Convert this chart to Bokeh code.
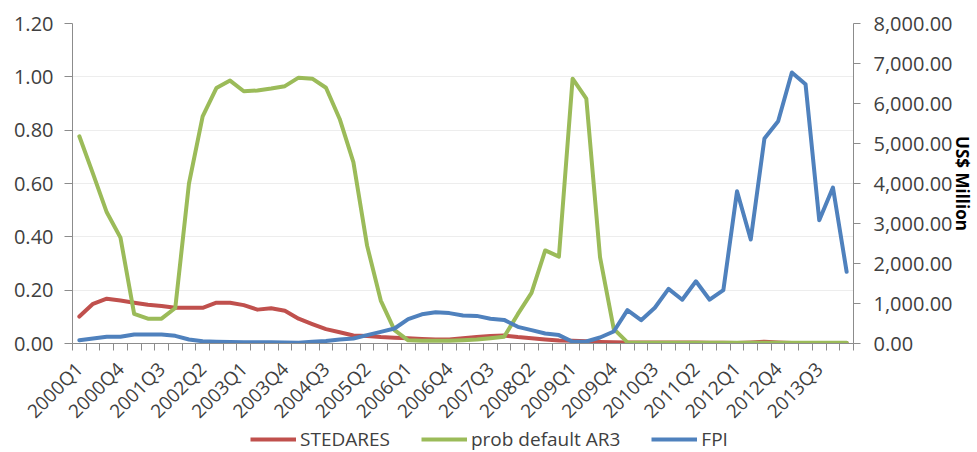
import math
from bokeh.plotting import figure
from bokeh.layouts import column
from bokeh.models import (Range1d, LinearAxis, FixedTicker, NumeralTickFormatter,
                          Legend, LegendItem, ColumnDataSource)
from bokeh.embed import file_html
from bokeh.resources import INLINE

quarters = [f"{y}Q{q}" for y in range(2000, 2015) for q in range(1, 5)][:57]

stedares = [0.101, 0.149, 0.168, 0.161, 0.153, 0.145, 0.141, 0.134, 0.134, 0.134,
            0.153, 0.153, 0.144, 0.127, 0.132, 0.123, 0.093, 0.073, 0.054, 0.042,
            0.030, 0.028, 0.024, 0.022, 0.020, 0.017, 0.015, 0.015, 0.020, 0.024,
            0.028, 0.030, 0.024, 0.020, 0.015, 0.011, 0.010, 0.008, 0.006, 0.005,
            0.004, 0.004, 0.004, 0.004, 0.004, 0.004, 0.003, 0.003, 0.002, 0.004,
            0.007, 0.004, 0.002, 0.002, 0.002, 0.002, 0.002]

prob_default_ar3 = [0.777, 0.636, 0.492, 0.397, 0.111, 0.093, 0.093, 0.133, 0.600, 0.852,
                    0.958, 0.986, 0.946, 0.949, 0.956, 0.965, 0.997, 0.993, 0.959, 0.842,
                    0.680, 0.367, 0.161, 0.050, 0.012, 0.010, 0.010, 0.010, 0.012, 0.015,
                    0.020, 0.025, 0.110, 0.190, 0.349, 0.326, 0.993, 0.918, 0.324, 0.055,
                    0.004, 0.003, 0.003, 0.003, 0.003, 0.003, 0.003, 0.003, 0.003, 0.003,
                    0.003, 0.003, 0.003, 0.003, 0.003, 0.003, 0.003]

fpi = [83, 125, 167, 167, 225, 225, 225, 192, 100, 58,
       45, 35, 30, 30, 30, 25, 20, 45, 60, 100,
       125, 208, 292, 375, 610, 730, 780, 760, 700, 690,
       620, 590, 417, 333, 250, 210, 42, 50, 150, 300,
       833, 583, 895, 1365, 1095, 1555, 1095, 1333, 3808, 2600,
       5125, 5558, 6775, 6483, 3083, 3900, 1792]

series_names = ["STEDARES", "prob default AR3", "FPI"]
series_colors = ["#C0504D", "#9BBB59", "#4F81BD"]

left_ticks = [0.0, 0.2, 0.4, 0.6, 0.8, 1.0, 1.2]
right_ticks = [0, 1000, 2000, 3000, 4000, 5000, 6000, 7000, 8000]

FONT = "Open Sans"
TXT = "#404040"
AXC = "#8c8c8c"

idx = list(range(len(quarters)))
src = ColumnDataSource(dict(x=idx, s=stedares, g=prob_default_ar3, f=fpi))

p = figure(width=977, height=435, output_backend="svg", toolbar_location=None,
           x_range=Range1d(-0.5, len(quarters) - 0.5), y_range=Range1d(0, 1.2),
           min_border_left=72, min_border_right=124, min_border_top=23,
           min_border_bottom=92)
p.outline_line_color = None
p.extra_y_ranges = {"fpi": Range1d(0, 8000)}

lw = dict(line_width=4, line_join="round", line_cap="round")
p.line("x", "s", source=src, line_color=series_colors[0], **lw)
p.line("x", "g", source=src, line_color=series_colors[1], **lw)
p.line("x", "f", source=src, line_color=series_colors[2], y_range_name="fpi", **lw)

p.xgrid.visible = False
p.ygrid.grid_line_color = "#ededed"
p.ygrid.ticker = FixedTicker(ticks=left_ticks)

# x axis
xa = p.xaxis[0]
xa.ticker = FixedTicker(ticks=idx[::3], minor_ticks=[i - 0.5 for i in range(len(quarters) + 1)])
xa.major_label_overrides = {i: quarters[i] for i in idx[::3]}
xa.major_label_orientation = math.pi / 4
xa.major_tick_out = 0
xa.major_tick_in = 0
xa.minor_tick_out = 7
xa.minor_tick_in = 0
xa.minor_tick_line_color = AXC
xa.axis_line_color = AXC
xa.major_label_standoff = 15
xa.major_label_text_font = FONT
xa.major_label_text_font_size = "19px"
xa.major_label_text_color = TXT

# left axis
ya = p.yaxis[0]
ya.ticker = FixedTicker(ticks=left_ticks)
ya.formatter = NumeralTickFormatter(format="0.00")
ya.major_tick_out = 8
ya.major_tick_in = 0
ya.minor_tick_out = 0
ya.minor_tick_in = 0
ya.major_tick_line_color = AXC
ya.axis_line_color = AXC
ya.major_label_standoff = 11
ya.major_label_text_font = FONT
ya.major_label_text_font_size = "20px"
ya.major_label_text_color = TXT

# right axis
ra = LinearAxis(y_range_name="fpi", ticker=FixedTicker(ticks=right_ticks),
                formatter=NumeralTickFormatter(format="0,0.00"))
ra.major_tick_out = 7
ra.major_tick_in = 0
ra.minor_tick_out = 0
ra.minor_tick_in = 0
ra.major_tick_line_color = AXC
ra.axis_line_color = AXC
ra.major_label_standoff = 13
ra.major_label_text_font = FONT
ra.major_label_text_font_size = "20px"
ra.major_label_text_color = TXT
ra.axis_label = "US$ Million"
ra.axis_label_standoff = -5
ra.axis_label_text_font = FONT
ra.axis_label_text_font_style = "bold"
ra.axis_label_text_font_size = "17px"
ra.axis_label_text_color = "#000000"
p.add_layout(ra, "right")

# legend strip below the chart
pl = figure(width=977, height=28, output_backend="svg", toolbar_location=None,
            x_axis_type=None, y_axis_type=None, min_border=0,
            x_range=Range1d(0, 1), y_range=Range1d(0, 1), margin=(-11, 0, 0, 0))
pl.outline_line_color = None
pl.xgrid.visible = False
pl.ygrid.visible = False
pl.background_fill_alpha = 0
pl.border_fill_alpha = 0
items = []
for name, col in zip(series_names, series_colors):
    r = pl.line(x=[float("nan")], y=[float("nan")], line_color=col, line_width=4)
    items.append(LegendItem(label=name, renderers=[r]))
legend = Legend(items=items, orientation="horizontal", location=(178, 0),
                padding=0, margin=0, spacing=31, glyph_width=46, glyph_height=20,
                label_standoff=4, border_line_color=None, background_fill_alpha=0,
                label_text_font=FONT, label_text_font_size="19px",
                label_text_color=TXT)
pl.add_layout(legend)

open("out.html", "w").write(file_html(column(p, pl, spacing=0), INLINE))
